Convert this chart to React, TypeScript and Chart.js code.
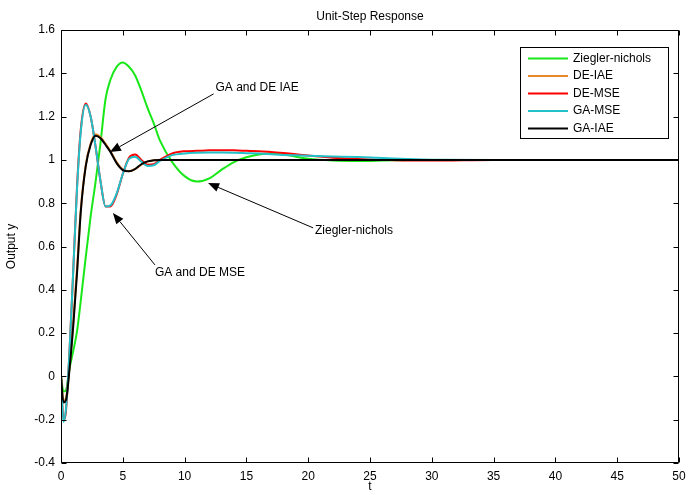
import React, { useEffect, useRef } from "react";
import { Chart, registerables } from "chart.js";

Chart.register(...registerables);

const FONT = '"Liberation Sans", Arial, Helvetica, sans-serif';

const timeValues = [0, 0.2, 0.4, 0.7, 1.0, 1.3, 1.6, 2.0, 2.4, 2.8, 3.2, 3.6, 4.0, 4.5, 5.0, 5.5, 6.0, 6.5, 7.0, 7.5, 8.0, 9, 10, 11, 12, 13, 14, 15, 16, 17, 18, 19, 20, 22, 24, 26, 28, 30, 35, 40, 45, 50];

const zieglerNichols = [0, -0.07, -0.065, 0.04, 0.12, 0.21, 0.35, 0.55, 0.74, 0.9, 1.08, 1.28, 1.37, 1.43, 1.45, 1.43, 1.39, 1.32, 1.24, 1.17, 1.09, 0.99, 0.925, 0.9, 0.915, 0.955, 0.99, 1.012, 1.025, 1.03, 1.025, 1.015, 1.005, 0.997, 0.995, 0.997, 1.0, 1.0, 1.0, 1.0, 1.0, 1.0];

const deIae = [0, -0.115, -0.1, 0.05, 0.26, 0.5, 0.77, 0.975, 1.075, 1.118, 1.105, 1.075, 1.04, 0.99, 0.956, 0.948, 0.958, 0.978, 0.992, 0.998, 1.0, 1.0, 1.0, 1.0, 1.0, 1.0, 1.0, 1.0, 1.0, 1.0, 1.0, 1.0, 1.0, 1.0, 1.0, 1.0, 1.0, 1.0, 1.0, 1.0, 1.0, 1.0];

const deMse = [0, -0.2, -0.16, 0.13, 0.5, 0.88, 1.14, 1.26, 1.2, 1.06, 0.9, 0.785, 0.785, 0.84, 0.935, 1.01, 1.025, 1.0, 0.978, 0.98, 1.0, 1.03, 1.04, 1.042, 1.044, 1.045, 1.044, 1.042, 1.04, 1.037, 1.032, 1.026, 1.02, 1.01, 1.004, 1.0, 0.997, 0.997, 1.0, 1.0, 1.0, 1.0];

const gaMse = [0, -0.21, -0.15, 0.13, 0.5, 0.87, 1.13, 1.255, 1.2, 1.06, 0.9, 0.785, 0.79, 0.845, 0.935, 1.005, 1.015, 0.992, 0.972, 0.975, 0.995, 1.022, 1.03, 1.033, 1.034, 1.034, 1.033, 1.031, 1.029, 1.026, 1.023, 1.021, 1.019, 1.016, 1.013, 1.009, 1.004, 1.001, 1.0, 1.0, 1.0, 1.0];

const gaIae = [0, -0.12, -0.11, 0.04, 0.24, 0.48, 0.76, 0.97, 1.07, 1.112, 1.1, 1.07, 1.037, 0.985, 0.953, 0.947, 0.958, 0.98, 0.993, 0.998, 1.0, 1.0, 1.0, 1.0, 1.0, 1.0, 1.0, 1.0, 1.0, 1.0, 1.0, 1.0, 1.0, 1.0, 1.0, 1.0, 1.0, 1.0, 1.0, 1.0, 1.0, 1.0];

const seriesLabels = ["Ziegler-nichols", "DE-IAE", "DE-MSE", "GA-MSE", "GA-IAE"];
const seriesColors = ["#18e818", "#e8862a", "#ff0000", "#22c0c8", "#000000"];
const seriesValues = [zieglerNichols, deIae, deMse, gaMse, gaIae];

const xTicks = [0, 5, 10, 15, 20, 25, 30, 35, 40, 45, 50];
const yTicks = [-0.4, -0.2, 0, 0.2, 0.4, 0.6, 0.8, 1.0, 1.2, 1.4, 1.6];

const chartTitle = "Unit-Step Response";
const xTitle = "t";
const yTitle = "Output y";

// annotation anchors in data coordinates
const annotations = [
  { text: "GA and DE IAE", textT: 12.5, textV: 1.332, tailT: 12.35, tailV: 1.305, tipT: 3.96, tipV: 1.036 },
  { text: "Ziegler-nichols", textT: 20.55, textV: 0.672, tailT: 20.4, tailV: 0.686, tipT: 11.9, tipV: 0.893 },
  { text: "GA and DE MSE", textT: 7.6, textV: 0.478, tailT: 7.6, tailV: 0.515, tipT: 4.2, tipV: 0.755 },
];

const overlayPlugin = {
  id: "overlay",
  afterDraw(chart: any) {
    const { ctx, chartArea: a, scales } = chart;
    const xs = scales.x;
    const ys = scales.y;
    ctx.save();
    // frame
    ctx.strokeStyle = "#000";
    ctx.lineWidth = 1;
    const L = Math.round(a.left) + 0.5;
    const R = Math.round(a.right) - 0.5;
    const T = Math.round(a.top) + 0.5;
    const B = Math.round(a.bottom) - 0.5;
    ctx.beginPath();
    ctx.rect(L, T, R - L, B - T);
    ctx.stroke();
    // inward ticks
    const tl = 5;
    ctx.beginPath();
    xTicks.forEach((v) => {
      const px = Math.round(xs.getPixelForValue(v)) + 0.5;
      ctx.moveTo(px, B);
      ctx.lineTo(px, B - tl);
      ctx.moveTo(px, T);
      ctx.lineTo(px, T + tl);
    });
    yTicks.forEach((v) => {
      const py = Math.round(ys.getPixelForValue(v)) + 0.5;
      ctx.moveTo(L, py);
      ctx.lineTo(L + tl, py);
      ctx.moveTo(R, py);
      ctx.lineTo(R - tl, py);
    });
    ctx.stroke();

    // title
    ctx.fillStyle = "#000";
    ctx.font = `12px ${FONT}`;
    ctx.textAlign = "center";
    ctx.textBaseline = "middle";
    ctx.fillText(chartTitle, (a.left + a.right) / 2, a.top - 13);

    // annotations
    ctx.textAlign = "left";
    annotations.forEach((an) => {
      const tx = xs.getPixelForValue(an.textT);
      const ty = ys.getPixelForValue(an.textV);
      ctx.fillText(an.text, tx, ty);
      const x0 = xs.getPixelForValue(an.tailT);
      const y0 = ys.getPixelForValue(an.tailV);
      const x1 = xs.getPixelForValue(an.tipT);
      const y1 = ys.getPixelForValue(an.tipV);
      const ang = Math.atan2(y1 - y0, x1 - x0);
      const hl = 11;
      const hw = 4.5;
      const bx = x1 - hl * Math.cos(ang);
      const by = y1 - hl * Math.sin(ang);
      ctx.beginPath();
      ctx.moveTo(x0, y0);
      ctx.lineTo(bx, by);
      ctx.stroke();
      ctx.beginPath();
      ctx.moveTo(x1, y1);
      ctx.lineTo(bx + hw * Math.sin(ang), by - hw * Math.cos(ang));
      ctx.lineTo(bx - hw * Math.sin(ang), by + hw * Math.cos(ang));
      ctx.closePath();
      ctx.fill();
    });

    // legend
    const lw = 148;
    const lh = 91;
    const lx = Math.round(a.right) - 11 - lw;
    const ly = Math.round(a.top) + 17;
    ctx.fillStyle = "#fff";
    ctx.fillRect(lx, ly, lw, lh);
    ctx.strokeStyle = "#000";
    ctx.lineWidth = 1;
    ctx.strokeRect(lx + 0.5, ly + 0.5, lw, lh);
    ctx.textAlign = "left";
    ctx.textBaseline = "middle";
    seriesLabels.forEach((lab, i) => {
      const ry = ly + 11.5 + i * 17.5;
      ctx.strokeStyle = seriesColors[i];
      ctx.lineWidth = 2;
      ctx.beginPath();
      ctx.moveTo(lx + 8, ry);
      ctx.lineTo(lx + 48, ry);
      ctx.stroke();
      ctx.fillStyle = "#000";
      ctx.fillText(lab, lx + 53, ry);
    });
    ctx.restore();
  },
};

export default function App() {
  const canvasRef = useRef<HTMLCanvasElement | null>(null);

  useEffect(() => {
    document.body.style.margin = "0";
    const canvas = canvasRef.current;
    if (!canvas) return;
    const datasets = seriesValues.map((vals, i) => ({
      label: seriesLabels[i],
      data: timeValues.map((t, k) => ({ x: t, y: vals[k] })),
      borderColor: seriesColors[i],
      backgroundColor: seriesColors[i],
      borderWidth: 2,
      pointRadius: 0,
      fill: false,
      cubicInterpolationMode: "monotone" as const,
      order: seriesValues.length - i,
    }));
    const chart = new Chart(canvas, {
      type: "line",
      data: { datasets },
      options: {
        responsive: false,
        animation: false,
        devicePixelRatio: 1,
        layout: { padding: { top: 30, right: 21, left: 0, bottom: 0 } },
        plugins: { legend: { display: false }, title: { display: false }, tooltip: { enabled: false } },
        scales: {
          x: {
            type: "linear",
            min: 0,
            max: 50,
            afterBuildTicks: (s: any) => {
              s.ticks = xTicks.map((v) => ({ value: v }));
            },
            afterFit: (s: any) => {
              s.height = 32;
            },
            grid: { display: false, drawTicks: false },
            border: { display: false },
            ticks: {
              padding: 6,
              color: "#000",
              font: { family: FONT, size: 12 },
              maxRotation: 0,
              autoSkip: false,
              callback: (v: any) => String(v),
            },
            title: { display: true, text: xTitle, color: "#000", font: { family: FONT, size: 12 }, padding: { top: 0, bottom: 1 } },
          },
          y: {
            type: "linear",
            min: -0.4,
            max: 1.6,
            afterBuildTicks: (s: any) => {
              s.ticks = yTicks.map((v) => ({ value: v }));
            },
            afterFit: (s: any) => {
              s.width = 61;
            },
            grid: { display: false, drawTicks: false },
            border: { display: false },
            ticks: {
              padding: 6,
              color: "#000",
              font: { family: FONT, size: 12 },
              autoSkip: false,
              callback: (v: any) => String(Number(Number(v).toFixed(1))),
            },
            title: { display: true, text: yTitle, color: "#000", font: { family: FONT, size: 12 }, padding: { top: 4, bottom: 0 } },
          },
        },
      },
      plugins: [overlayPlugin],
    });
    return () => chart.destroy();
  }, []);

  return (
    <div style={{ width: 700, height: 495, background: "#fff" }}>
      <canvas ref={canvasRef} width={700} height={495} style={{ display: "block", width: 700, height: 495 }} />
    </div>
  );
}
